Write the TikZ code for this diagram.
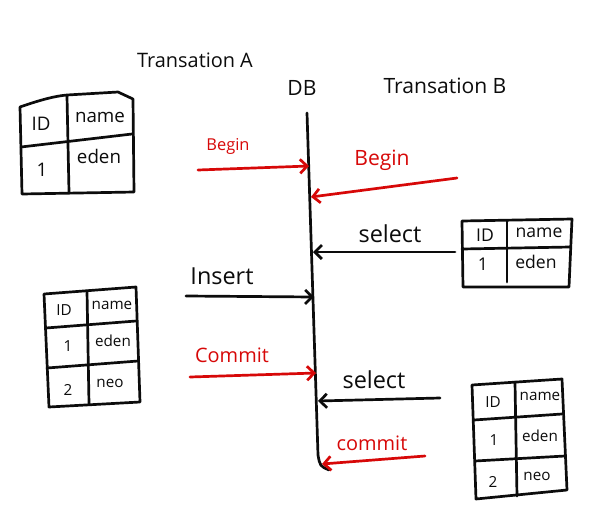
\documentclass[tikz,border=0pt]{standalone}
\usepackage{fontspec}
\setmainfont{Open Sans}
\usetikzlibrary{arrows.meta}
\definecolor{pen}{RGB}{12,12,12}
\definecolor{redpen}{RGB}{215,8,8}
\begin{document}
\begin{tikzpicture}[x=0.03cm,y=-0.03cm,
  ink/.style={line width=2.3pt, line cap=round, line join=round, draw=pen},
  msg/.style={ink, -{Straight Barb[length=6pt,width=12pt,line width=2.3pt]}},
  redmsg/.style={msg, draw=redpen},
  lbl/.style={inner sep=0, text=pen},
  redlbl/.style={lbl, text=redpen},
  cell/.style={inner sep=0, text=pen}]
\useasboundingbox (0,0) rectangle (606,523);
\fill[white] (0,0) rectangle (606,523);

% headings
\node[lbl, font=\fontsize{17}{19}\selectfont] (ta) at (195,60) {Transation A};
\node[lbl, font=\fontsize{18}{20}\selectfont] (db) at (302,88) {DB};
\node[lbl, font=\fontsize{18}{20}\selectfont] (tb) at (445,86) {Transation B};

% DB line
\coordinate (dbtop) at (307,113);
\coordinate (dbbot) at (318,455);
\coordinate (dbend) at (329,470);
\draw[ink] (dbtop) -- (dbbot) .. controls (320,466) .. (dbend);

% points on the DB line
\coordinate (d1) at (309,166);
\coordinate (d2) at (311,197);
\coordinate (d3) at (313,252);
\coordinate (d4) at (314,297);
\coordinate (d5) at (316,373);
\coordinate (d6) at (318,401);
\coordinate (d7) at (322,464);

% free ends
\coordinate (s1) at (198,170);
\coordinate (s2) at (457,178);
\coordinate (s3) at (455,252);
\coordinate (s4) at (186,296);
\coordinate (s5) at (190,377);
\coordinate (s6) at (440,398);
\coordinate (s7) at (425,456);

\draw[redmsg] (s1) -- (d1);
\node[redlbl, font=\fontsize{14}{16}\selectfont] (l1) at (228,146) {Begin};
\draw[redmsg] (s2) -- (d2);
\node[redlbl, font=\fontsize{18}{20}\selectfont] (l2) at (382,160) {Begin};
\draw[msg] (s3) -- (d3);
\node[lbl, font=\fontsize{20}{22}\selectfont] (l3) at (390,234) {select};
\draw[msg] (s4) -- (d4);
\node[lbl, font=\fontsize{20}{22}\selectfont] (l4) at (222,276) {Insert};
\draw[redmsg] (s5) -- (d5);
\node[redlbl, font=\fontsize{17}{19}\selectfont] (l5) at (232,355) {Commit};
\draw[msg] (s6) -- (d6);
\node[lbl, font=\fontsize{20}{22}\selectfont] (l6) at (374,380) {select};
\draw[redmsg] (s7) -- (d7);
\node[redlbl, font=\fontsize{17}{19}\selectfont] (l7) at (372,443) {commit};

% table 1 (top left)
\draw[ink] (20,107) .. controls (40,100) and (55,96) .. (67,95) -- (118,92) -- (133,99) -- (134,192) -- (22,194) -- cycle;
\draw[ink] (67,96) -- (69,192);
\draw[ink] (21,147) -- (132,134);
\begin{scope}[every node/.style={cell, font=\fontsize{16}{18}\selectfont}]
\node (t1a) at (41,124) {ID};
\node (t1b) at (100,117) {name};
\node (t1c) at (42,170) {1};
\node (t1d) at (99,156) {eden};
\end{scope}

% table 2 (top right)
\draw[ink] (462,221) -- (572,219) -- (569,287) -- (463,287) -- cycle;
\draw[ink] (507,221) -- (507,282);
\draw[ink] (462,249) -- (570,247);
\begin{scope}[every node/.style={cell, font=\fontsize{15}{17}\selectfont}]
\node (t2a) at (485,235) {ID};
\node (t2b) at (539,233) {name};
\node (t2c) at (483,264) {1};
\node (t2d) at (536,262) {eden};
\end{scope}

% table 3 (middle left)
\draw[ink] (44,294) -- (136,287) -- (140,402) -- (49,407) -- cycle;
\draw[ink] (87,291) -- (89,404);
\draw[ink] (46,328) -- (136,321);
\draw[ink] (47,368) -- (138,361);
\begin{scope}[every node/.style={cell, font=\fontsize{13}{15}\selectfont}]
\node (t3a) at (64,310) {ID};
\node (t3b) at (112,305) {name};
\node (t3c) at (68,346) {1};
\node (t3d) at (113,341) {eden};
\node (t3e) at (68,390) {2};
\node (t3f) at (110,383) {neo};
\end{scope}

% table 4 (bottom right)
\draw[ink] (472,385) -- (562,379) -- (567,490) -- (476,499) -- cycle;
\draw[ink] (515,382) -- (517,496);
\draw[ink] (474,420) -- (562,414);
\draw[ink] (475,461) -- (565,456);
\begin{scope}[every node/.style={cell, font=\fontsize{13}{15}\selectfont}]
\node (t4a) at (493,402) {ID};
\node (t4b) at (540,396) {name};
\node (t4c) at (494,440) {1};
\node (t4d) at (540,436) {eden};
\node (t4e) at (493,482) {2};
\node (t4f) at (537,476) {neo};
\end{scope}
\end{tikzpicture}
\end{document}
